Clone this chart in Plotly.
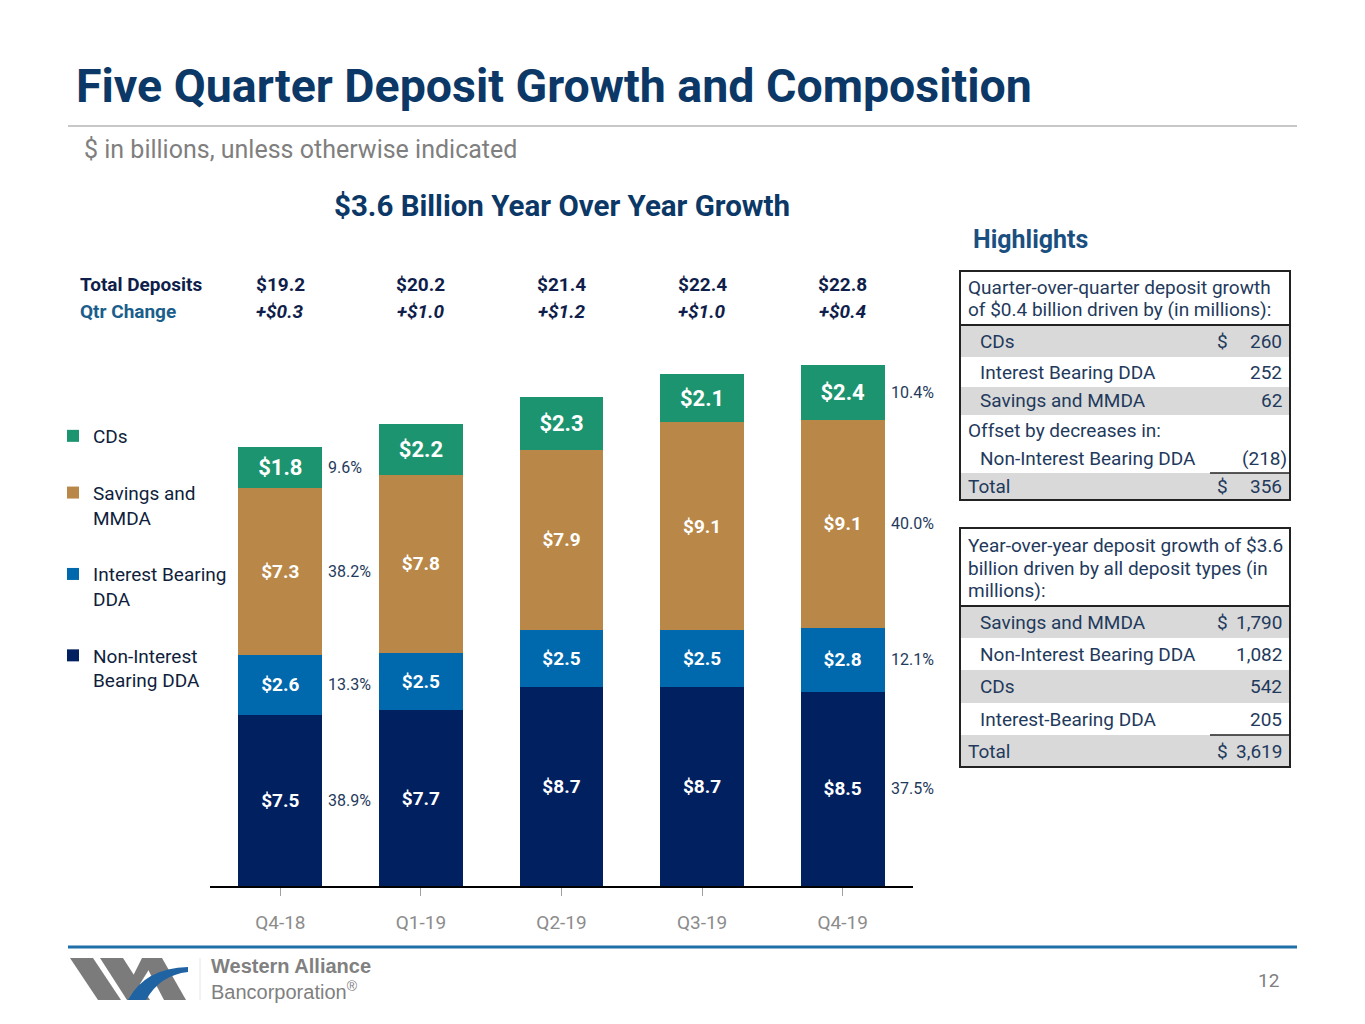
import plotly.graph_objects as go

# page is drawn with the browser's 8px body margin, so the figure is 16px smaller
W, H = 1349, 1008
OFF = 8

quarters = ["Q4-18", "Q1-19", "Q2-19", "Q3-19", "Q4-19"]
non_int_dda = [7.5, 7.7, 8.7, 8.7, 8.5]
int_dda = [2.6, 2.5, 2.5, 2.5, 2.8]
savings_mmda = [7.3, 7.8, 7.9, 9.1, 9.1]
cds = [1.8, 2.2, 2.3, 2.1, 2.4]
total_deposits = [19.2, 20.2, 21.4, 22.4, 22.8]
qtr_change = [0.3, 1.0, 1.2, 1.0, 0.4]

# share of total, first and last quarter (bottom to top: NIB, IB, Savings, CDs)
share_first = [38.9, 13.3, 38.2, 9.6]
share_last = [37.5, 12.1, 40.0, 10.4]

qoq_labels = ["CDs", "Interest Bearing DDA", "Savings and MMDA",
              "Offset by decreases in:", "Non-Interest Bearing DDA", "Total"]
qoq_values = [260, 252, 62, None, -218, 356]
yoy_labels = ["Savings and MMDA", "Non-Interest Bearing DDA", "CDs",
              "Interest-Bearing DDA", "Total"]
yoy_values = [1790, 1082, 542, 205, 3619]

NAVY = "#002060"
BLUE = "#0068AC"
TAN = "#B98848"
GREEN = "#1C9470"
TXT = "#1F3A5C"
FONT = "Roboto, Liberation Sans, sans-serif"


def px(x):
    return (x - OFF) / W


def py(y):
    return 1 - (y - OFF) / H


def note(x, y, text, size, color, anchor="left", xref="paper", **kw):
    fig.add_annotation(x=x, y=y, xref=xref, yref="paper", text=text, showarrow=False,
                       xanchor=anchor, yanchor="middle",
                       font=dict(size=size, color=color, family=kw.pop("family", FONT)), **kw)


fig = go.Figure()
series = [
    ("Non-Interest<br>Bearing DDA", non_int_dda, NAVY, 19, 4),
    ("Interest Bearing<br>DDA", int_dda, BLUE, 19, 3),
    ("Savings and<br>MMDA", savings_mmda, TAN, 19, 2),
    ("CDs", cds, GREEN, 22, 1),
]
for i, (name, vals, col, fs, rank) in enumerate(series):
    fig.add_trace(go.Bar(
        x=quarters, y=vals, name=name, marker_color=col,
        marker_line_width=0, legendgroup=str(i), legendrank=rank,
        texttemplate="<b>$%{y:.1f}</b>", textposition="inside",
        insidetextanchor="middle", textangle=0,
        textfont=dict(color="white", size=fs, family=FONT),
    ))

# percentage labels beside first and last bars
stacks = [non_int_dda, int_dda, savings_mmda, cds]
for qi, shares in [(0, share_first), (4, share_last)]:
    base = 0
    for s, vals in enumerate(stacks):
        mid = base + vals[qi] / 2
        base += vals[qi]
        fig.add_annotation(x=qi, y=mid, xref="x", yref="y", xshift=46,
                           text=f"{shares[s]:.1f}%", showarrow=False,
                           xanchor="left", yanchor="middle",
                           font=dict(size=16, color=TXT, family=FONT))

# header rows
note(px(78), py(284), "<b>Total Deposits</b>", 19, "#0F1E4A")
note(px(78), py(311), "<b>Qtr Change</b>", 19, "#1B5E8C")
for i, (t, c) in enumerate(zip(total_deposits, qtr_change)):
    note(i, py(284), f"<b>${t:.1f}</b>", 19, "#0F1E4A", anchor="center", xref="x")
    note(i, py(311), f"<b><i>+${c:.1f}</i></b>", 19, "#0F1E4A", anchor="center", xref="x")

# titles
note(px(74), py(86), "<b>Five Quarter Deposit Growth and Composition</b>", 46.5, "#0B3866")
note(px(82), py(150), "$ in billions, unless otherwise indicated", 25, "#7F7F7F")
note(px(562), py(206), "<b>$3.6 Billion Year Over Year Growth</b>", 29.5, "#0B3866", anchor="center")
note(px(971), py(240), "<b>Highlights</b>", 25, "#1B4F7F")

P = dict(xref="paper", yref="paper")
shapes = [
    dict(type="line", x0=px(68), x1=px(1297), y0=py(126), y1=py(126),
         line=dict(color="#C8C8C8", width=2), **P),
    dict(type="line", x0=px(68), x1=px(1297), y0=py(947), y1=py(947),
         line=dict(color="#1F6FA8", width=3), **P),
]


def fmt(v):
    s = f"{abs(v):,}"
    return f"({s})" if v < 0 else s


def table(top, head_bottom, header_lines, labels, values, rows, greys, dollar_rows, line_row):
    for (y0, y1), g in zip(rows, greys):
        if g:
            shapes.append(dict(type="rect", x0=px(961), x1=px(1289), y0=py(y0), y1=py(y1),
                               fillcolor="#D9D9D9", line_width=0, layer="below", **P))
    shapes.append(dict(type="rect", x0=px(960), x1=px(1290), y0=py(top), y1=py(rows[-1][1]),
                       line=dict(color="#222222", width=2), **P))
    shapes.append(dict(type="line", x0=px(960), x1=px(1290), y0=py(head_bottom), y1=py(head_bottom),
                       line=dict(color="#222222", width=2), **P))
    ly = rows[line_row][0]
    shapes.append(dict(type="line", x0=px(1210), x1=px(1290), y0=py(ly), y1=py(ly),
                       line=dict(color="#222222", width=1.5), **P))
    for txt, y in header_lines:
        note(px(966), py(y), txt, 19, TXT)
    for i, (lab, v) in enumerate(zip(labels, values)):
        y0, y1 = rows[i]
        yc = (y0 + y1) / 2
        indent = 966 if lab in ("Total", "Offset by decreases in:") else 978
        note(px(indent), py(yc), lab, 19, TXT)
        if v is not None:
            note(px(1289 if v < 0 else 1284), py(yc), fmt(v), 19, TXT, anchor="right")
        if i in dollar_rows:
            note(px(1222), py(yc), "$", 19, TXT, anchor="center")


table(271, 325,
      [("Quarter-over-quarter deposit growth", 287), ("of $0.4 billion driven by (in millions):", 309)],
      qoq_labels, qoq_values,
      [(326, 357), (357, 387), (387, 415), (415, 445), (445, 473), (473, 500)],
      [True, False, True, False, False, True], [0, 5], 5)
table(528, 606,
      [("Year-over-year deposit growth of $3.6", 545), ("billion driven by all deposit types (in", 568),
       ("millions):", 590)],
      yoy_labels, yoy_values,
      [(607, 638), (638, 670), (670, 703), (703, 735), (735, 767)],
      [True, False, True, False, True], [0, 4], 4)


# logo
def poly(pts, color):
    d = "M " + " L ".join(f"{px(x)},{py(y)}" for x, y in pts) + " Z"
    return dict(type="path", path=d, fillcolor=color, line_width=0, **P)


GREY = "#7B7B7B"
shapes.append(poly([(70, 958), (93, 958), (121, 1000), (98, 1000)], GREY))
shapes.append(poly([(100, 958), (123, 958), (150, 1000), (127, 1000)], GREY))
shapes.append(poly([(142, 958), (162, 958), (186, 1000), (164, 1000)], GREY))
shapes.append(poly([(142, 958), (156, 958), (135, 992), (128, 986)], GREY))
arc = (f"M {px(128)},{py(1000)} Q {px(145)},{py(968)} {px(188)},{py(967)} "
       f"L {px(188)},{py(972)} Q {px(160)},{py(975)} {px(146)},{py(1000)} Z")
shapes.append(dict(type="path", path=arc, fillcolor="#1F63A3", line_width=0, **P))
shapes.append(dict(type="line", x0=px(200), x1=px(200), y0=py(958), y1=py(1000),
                   line=dict(color="#E6E6E6", width=1), **P))
note(px(209), py(966), "<b>Western Alliance</b>", 20, "#808080", family="Liberation Sans")
note(px(209), py(990), "Bancorporation<sup>®</sup>", 20, "#808080", family="Liberation Sans")
note(px(1281), py(980), "12", 19, "#808080", anchor="right")

fig.update_layout(
    width=W, height=H, margin=dict(l=0, r=0, t=0, b=0),
    paper_bgcolor="white", plot_bgcolor="white",
    barmode="stack", bargap=0.404,
    shapes=shapes,
    showlegend=True,
    legend=dict(x=px(53), y=py(417), xanchor="left", yanchor="top",
                traceorder="grouped", tracegroupgap=29, valign="top",
                font=dict(size=19, color="#0F1E3C", family=FONT),
                itemwidth=30, bgcolor="rgba(0,0,0,0)"),
    xaxis=dict(domain=[px(210), px(913)], range=[-0.5, 4.5], showline=True,
               linecolor="black", linewidth=2, ticks="outside", ticklen=8,
               tickcolor="#A0A0A0", ticklabelstandoff=10,
               tickfont=dict(size=19, color="#8C8C8C", family=FONT),
               showgrid=False, zeroline=False, fixedrange=True),
    yaxis=dict(domain=[py(886), py(330)], range=[0, (886 - 330) / 22.85], visible=False,
               showgrid=False, fixedrange=True),
)

fig.write_html("out.html")
